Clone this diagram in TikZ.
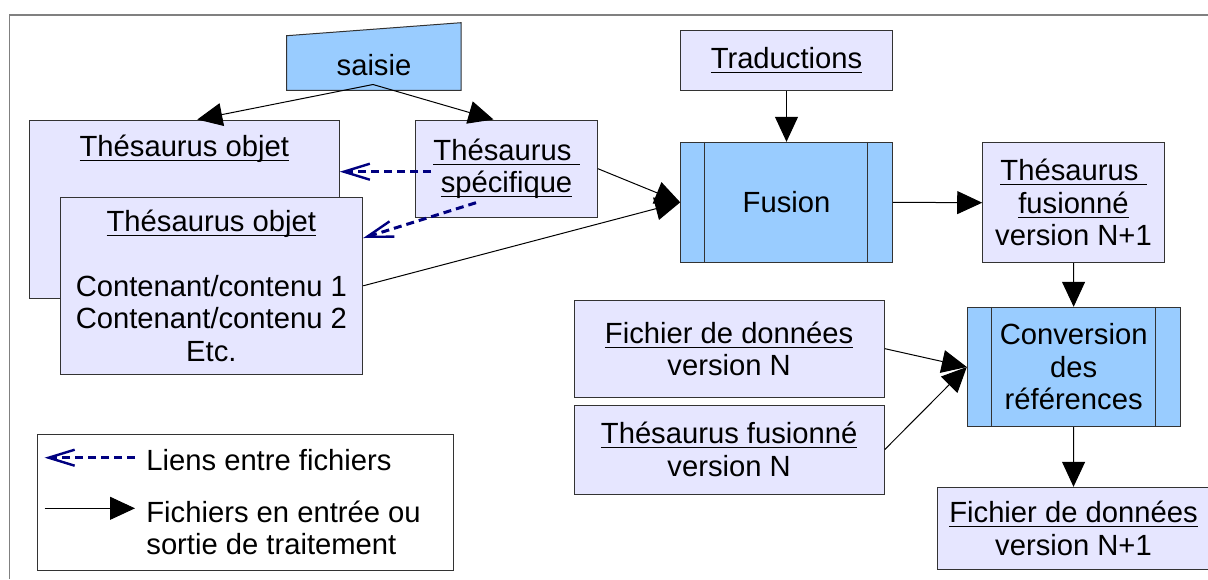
\documentclass[tikz,border=0pt]{standalone}
\usepackage{fontspec}
\setmainfont{Liberation Sans}
\usetikzlibrary{arrows.meta,calc}
\definecolor{lav}{HTML}{E6E6FF}
\definecolor{sky}{HTML}{99CCFF}
\definecolor{edgec}{HTML}{333333}
\definecolor{framec}{HTML}{808080}
\definecolor{navyb}{HTML}{000080}
\newcommand\ulx[1]{\setbox0=\hbox{#1}\rlap{\rule[-2.3pt]{\wd0}{0.55pt}}\box0}
\begin{document}
\begin{tikzpicture}[x=0.5pt,y=-0.5pt,
  font=\fontsize{14.6}{16.25}\selectfont,
  box/.style={draw=edgec, fill=lav, line width=0.5pt, inner sep=0pt, align=center},
  proc/.style={box, fill=sky},
  flow/.style={line width=0.5pt, -{Triangle[length=12.5pt,width=11.5pt]}},
  link/.style={navyb, line width=1.5pt, dash pattern=on 4pt off 2.5pt,
    -{Straight Barb[length=13pt,width=8pt,line width=1.2pt]}}]
\fill[white] (0,0) rectangle (1208,579);
\useasboundingbox (0,0) rectangle (1208,579);
% outer frame
\draw[framec, line width=0.75pt] (9.5,579) -- (9.5,15) -- (1208,15);

% saisie (manual input)
\draw[draw=edgec, fill=sky, line width=0.5pt] (286.7,35.7) -- (461,22.7) -- (461,90.3) -- (286.7,90.3) -- cycle;
\node (saisie) at (374,64.6) {saisie};
\coordinate (sb) at (373,84.5);

% thesaurus objet (back and front)
\node[box, minimum width=310*0.5pt, minimum height=178*0.5pt] (tob1) at (184.3,209)
  {\ulx{Thésaurus objet}\\\strut\\\strut\\\strut\\[-2.1pt]\rule{0pt}{0pt}};
\node[box, minimum width=302.7*0.5pt, minimum height=177*0.5pt] (tob2) at (211.35,285.8)
  {\ulx{Thésaurus objet}\\\strut\\Contenant/contenu 1\\Contenant/contenu 2\\Etc.};
\node[box, minimum width=181.6*0.5pt, minimum height=97.3*0.5pt] (spec) at (506.5,168.65)
  {\ulx{Thésaurus\ }\\\ulx{spécifique}};

% right part
\node[box, minimum width=211.6*0.5pt, minimum height=60*0.5pt] (trad) at (786.5,60)
  {\ulx{Traductions}};
\node[proc, minimum width=211.6*0.5pt, minimum height=120*0.5pt] (fus) at (786.5,202.3)
  {Fusion};
\draw[edgec, line width=0.5pt] ($(fus.north west)+(24.6,0)$) -- ($(fus.south west)+(24.6,0)$);
\draw[edgec, line width=0.5pt] ($(fus.north east)+(-25,0)$) -- ($(fus.south east)+(-25,0)$);
\node[box, minimum width=181.6*0.5pt, minimum height=120*0.5pt] (tfn1) at (1073.5,202.7)
  {\ulx{Thésaurus\ }\\\ulx{fusionné}\\version N+1};
\node[proc, minimum width=212.7*0.5pt, minimum height=119.4*0.5pt] (conv) at (1073.65,367)
  {Conversion\\des\\références};
\draw[edgec, line width=0.5pt] ($(conv.north west)+(25,0)$) -- ($(conv.south west)+(25,0)$);
\draw[edgec, line width=0.5pt] ($(conv.north east)+(-25,0)$) -- ($(conv.south east)+(-25,0)$);
\node[box, minimum width=310.3*0.5pt, minimum height=97.3*0.5pt] (fdn) at (729.15,348.65)
  {\ulx{Fichier de données}\\version N};
\node[box, minimum width=310.3*0.5pt, minimum height=89*0.5pt] (tfn) at (729.15,449.5)
  {\ulx{Thésaurus fusionné}\\version N};
\node[box, minimum width=272.4*0.5pt, minimum height=82*0.5pt] (fdn1) at (1073.5,528.3)
  {\ulx{Fichier de données}\\version N+1};

% connectors
\draw[flow] (sb) -- ($(tob1.north)+(13,0)$);
\draw[flow] (sb) -- ($(spec.north)+(-13,0)$);
\draw[flow] (spec.east) -- (fus.west);
\draw[flow] (tob2.east) -- (fus.west);
\draw[flow] (trad.south) -- (fus.north);
\draw[flow] (fus.east) -- (tfn1.west);
\draw[flow] (tfn1.south) -- (conv.north);
\draw[flow] (fdn.east) -- (conv.west);
\draw[flow] (tfn.east) -- (conv.west);
\draw[flow] (conv.south) -- (fdn1.north);
\coordinate (d1) at (431,171.7);
\coordinate (d2) at (476,202.7);
\draw[link] (d1) -- (d1 -| tob1.east);
\draw[link] (d2) -- (tob2.east |- 0,238);

% legend
\node[draw=edgec, fill=white, line width=0.5pt, minimum width=416.1*0.5pt, minimum height=135.7*0.5pt] (legend) at (245.55,502.15) {};
\coordinate (l1a) at (44.6,457.7);
\coordinate (l1b) at (135,457.7);
\coordinate (l2a) at (44.6,508.3);
\coordinate (l2b) at (135,508.3);
\draw[link] (l1b) -- (l1a);
\draw[flow] (l2a) -- (l2b);
\node[anchor=west, inner sep=0pt] (lt1) at (146,460) {Liens entre fichiers};
\node[anchor=west, inner sep=0pt, align=left] (lt2) at (146,528) {Fichiers en entrée ou\\sortie de traitement};
\end{tikzpicture}
\end{document}
